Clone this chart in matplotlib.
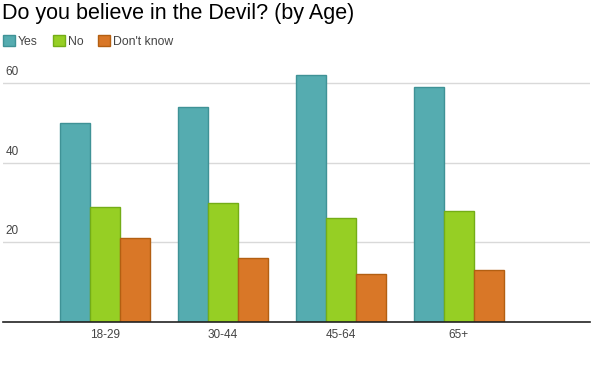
import matplotlib
matplotlib.use("Agg")
import matplotlib.pyplot as plt
import numpy as np

categories = ["18-29", "30-44", "45-64", "65+"]
yes_vals = [50, 54, 62, 59]
no_vals = [29, 30, 26, 28]
dk_vals = [21, 16, 12, 13]
series_names = ["Yes", "No", "Don't know"]
y_ticks = [20, 40, 60]

plt.rcParams['font.family'] = ['Liberation Sans', 'DejaVu Sans']

W, H = 591, 368
fig = plt.figure(figsize=(W / 100, H / 100), dpi=100)
ax = fig.add_axes([3 / W, (H - 321.8) / H, 587 / W, (321.8 - 67.4) / H])

colors = ["#55acb0", "#96cf24", "#d97727"]
edges = ["#3f9296", "#74ad17", "#b35f12"]
x = np.arange(len(categories))
bw = 0.254
handles = []
for i, (vals, c, e, name) in enumerate(zip([yes_vals, no_vals, dk_vals], colors, edges, series_names)):
    b = ax.bar(x + (i - 1) * bw, vals, width=bw, color=c, edgecolor=e, linewidth=1, label=name, zorder=3)
    handles.append(b)

ax.set_xlim(-0.86, 4.11)
ax.set_ylim(0, 64)
ax.set_yticks(y_ticks)
ax.set_yticklabels([])
ax.tick_params(axis='y', length=0)
ax.grid(axis='y', color='#d9d9d9', linewidth=1, zorder=0)
for t in y_ticks:
    ax.annotate(str(t), xy=(0, t), xycoords=('axes fraction', 'data'), xytext=(2, 3.5),
                textcoords='offset points', ha='left', va='bottom', fontsize=8.5, color='#444444')

ax.set_xticks(x)
ax.set_xticklabels(categories, fontsize=8.5, color='#444444')
ax.tick_params(axis='x', length=0, pad=5.5)

for s in ['top', 'right', 'left']:
    ax.spines[s].set_visible(False)
ax.spines['bottom'].set_color('#222222')
ax.spines['bottom'].set_linewidth(1.2)
ax.spines['bottom'].set_zorder(4)

fig.text(2 / W, 1 - 18.5 / H, "Do you believe in the Devil? (by Age)", fontsize=15.5, color='black',
         ha='left', va='baseline')

fig.legend(handles=handles, labels=series_names, loc='upper left', bbox_to_anchor=(3 / W, 1 - 35 / H),
           ncol=3, frameon=False, fontsize=8.8, handlelength=0.98, handleheight=0.98,
           handletextpad=0.25, columnspacing=1.2, borderpad=0, borderaxespad=0, labelcolor='#444444')

fig.savefig("out.png", dpi=100)
